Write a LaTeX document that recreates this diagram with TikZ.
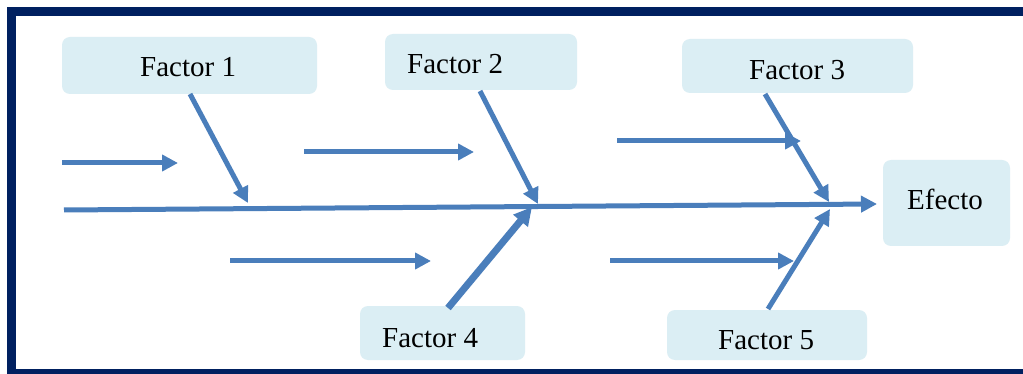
\documentclass[tikz,border=0pt]{standalone}
\usepackage{fontspec}
\setmainfont{Liberation Serif}
\usetikzlibrary{arrows.meta}
\definecolor{bonecol}{HTML}{4A7EBB}
\definecolor{boxfill}{HTML}{DBEEF4}
\definecolor{framecol}{HTML}{002060}
\tikzset{
  box/.style={fill=boxfill, draw=none, rounded corners=8pt, inner sep=0pt},
  txt/.style={anchor=base west, inner sep=0pt, font=\fontsize{29}{34}\selectfont, text=black},
  bone/.style={draw=bonecol, line width=5pt, -{Triangle[length=16pt,width=16pt]}},
  thickbone/.style={draw=bonecol, line width=7pt, -{Triangle[length=18pt,width=18pt]}},
  framebar/.style={fill=framecol, draw=none},
}
\begin{document}
\begin{tikzpicture}[x=1pt,y=-1pt]
\useasboundingbox (0,0) rectangle (1023,374);
\fill[white] (0,0) rectangle (1023,374);
% frame (right side lies outside the picture)
\fill[framebar] (7,7) rectangle (16,374);
\fill[framebar] (7,7) rectangle (1023,16);
\fill[framebar] (7,369) rectangle (1023,374);
% boxes
\node[box, minimum width=255pt, minimum height=57pt] (f1) at (189.5,65.5) {};
\node[box, minimum width=192pt, minimum height=56pt] (f2) at (481,62) {};
\node[box, minimum width=231pt, minimum height=54pt] (f3) at (797.5,66) {};
\node[box, minimum width=165pt, minimum height=54pt] (f4) at (442.5,333) {};
\node[box, minimum width=200pt, minimum height=50pt] (f5) at (767,335) {};
\node[box, minimum width=127pt, minimum height=86pt] (ef) at (946.5,203) {};
% texts
\node[txt] (t1) at (140,77) {Factor 1};
\node[txt] (t2) at (407,74) {Factor 2};
\node[txt] (t3) at (749,80) {Factor 3};
\node[txt] (t4) at (382,347) {Factor 4};
\node[txt] (t5) at (718,349) {Factor 5};
\node[txt] (te) at (907,210) {Efecto};
% coordinates
\coordinate (s0) at (64,210);
\coordinate (s1) at (877,204);
\coordinate (b1s) at (190,94);   \coordinate (b1e) at (248,203);
\coordinate (b2s) at (480,91);   \coordinate (b2e) at (538,204);
\coordinate (b3s) at (765,94);   \coordinate (b3e) at (829,202);
\coordinate (b4s) at (448,308);  \coordinate (b4e) at (532,207);
\coordinate (b5s) at (768,309);  \coordinate (b5e) at (830,209);
\coordinate (h1s) at (62,163);   \coordinate (h1e) at (178,163);
\coordinate (h2s) at (304,152);  \coordinate (h2e) at (474,152);
\coordinate (h3s) at (617,141);  \coordinate (h3e) at (801,141);
\coordinate (h4s) at (230,261);  \coordinate (h4e) at (431,261);
\coordinate (h5s) at (610,261);  \coordinate (h5e) at (794,261);
% spine
\draw[bone] (s0) -- (s1);
% small arrows
\draw[bone] (h1s) -- (h1e);
\draw[bone] (h2s) -- (h2e);
\draw[bone] (h3s) -- (h3e);
\draw[bone] (h4s) -- (h4e);
\draw[bone] (h5s) -- (h5e);
% bones
\draw[bone] (b1s) -- (b1e);
\draw[bone] (b2s) -- (b2e);
\draw[bone] (b3s) -- (b3e);
\draw[thickbone] (b4s) -- (b4e);
\draw[bone] (b5s) -- (b5e);
\end{tikzpicture}
\end{document}
